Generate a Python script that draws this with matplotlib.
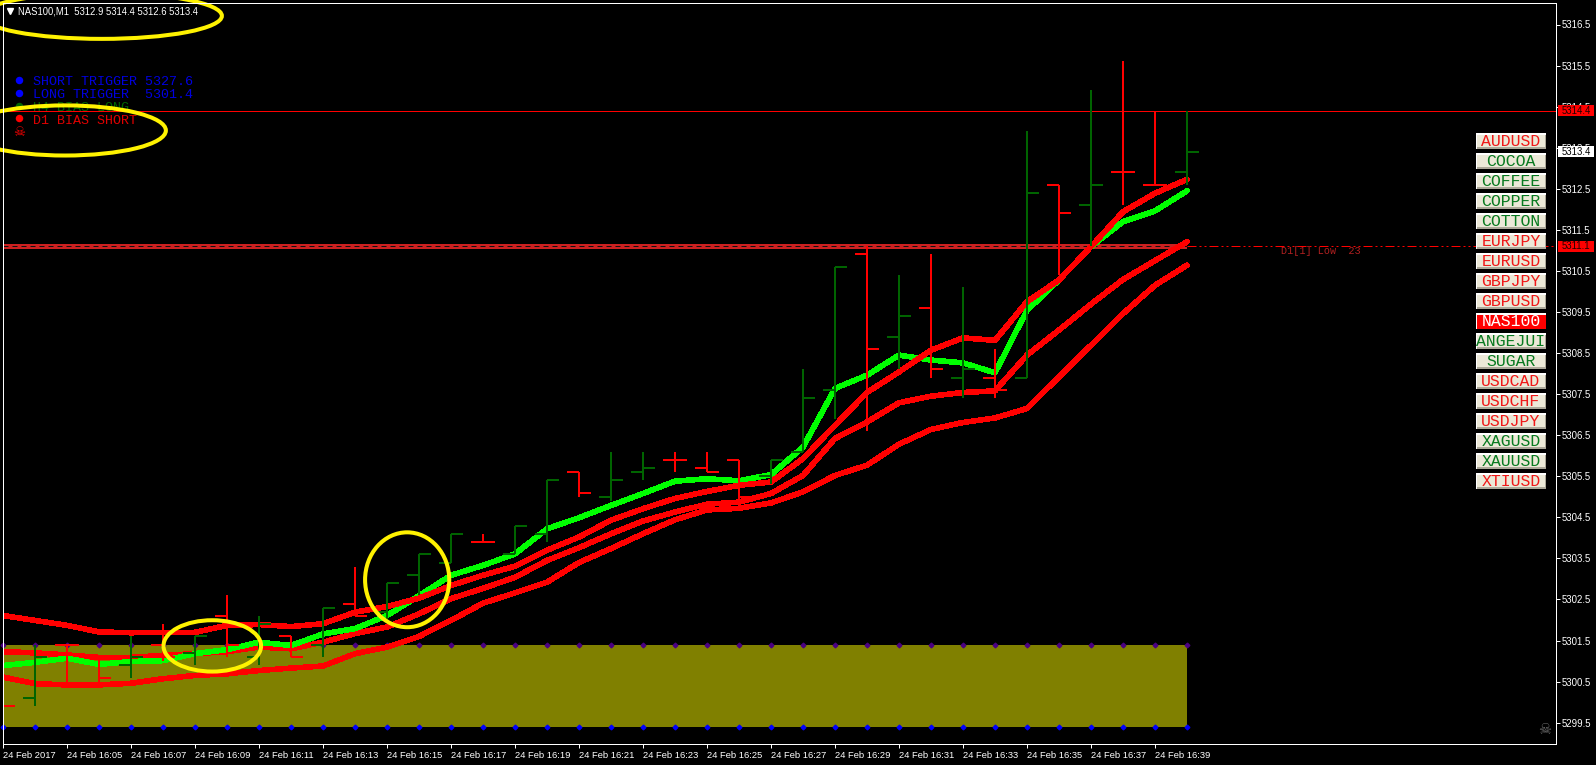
import matplotlib
matplotlib.use("Agg")
import matplotlib.pyplot as plt
import numpy as np
from matplotlib.patches import Ellipse, Rectangle
from matplotlib.transforms import Affine2D, blended_transform_factory

W, H = 1596, 765
UI = "Liberation Sans"
MONO = "Liberation Mono"

# ---------------- data ----------------
symbol = "NAS100,M1"
ohlc_header = "5312.9 5314.4 5312.6 5313.4"
opens = [5301.0, 5300.1, 5301.4, 5301.1, 5300.9, 5301.4, 5301.2, 5302.1, 5301.1, 5301.6,
         5301.4, 5302.4, 5302.2, 5303.1, 5303.4, 5303.9, 5303.6, 5304.1, 5305.6, 5305.0,
         5305.6, 5305.9, 5305.7, 5305.9, 5305.5, 5306.1, 5307.6, 5310.9, 5308.9, 5309.6,
         5307.9, 5307.9, 5307.9, 5312.6, 5312.1, 5312.9, 5312.6, 5312.9]
highs = [5301.1, 5301.4, 5301.4, 5301.1, 5301.6, 5301.9, 5301.6, 5302.6, 5302.1, 5301.6,
         5302.3, 5303.3, 5302.9, 5303.6, 5304.1, 5304.1, 5304.3, 5305.4, 5305.6, 5306.1,
         5306.1, 5306.1, 5306.1, 5305.9, 5305.9, 5308.1, 5310.6, 5311.1, 5310.4, 5310.9,
         5310.1, 5308.6, 5313.9, 5312.6, 5314.9, 5315.6, 5314.4, 5314.4]
lows = [5299.5, 5299.9, 5300.5, 5300.5, 5300.6, 5301.0, 5300.9, 5301.1, 5300.9, 5301.1,
        5301.1, 5302.1, 5302.0, 5302.6, 5303.4, 5303.9, 5303.6, 5303.9, 5305.0, 5304.9,
        5305.4, 5305.6, 5305.6, 5304.9, 5305.3, 5306.1, 5306.9, 5306.6, 5308.1, 5307.9,
        5307.4, 5307.4, 5307.9, 5310.4, 5311.1, 5312.1, 5312.6, 5312.6]
closes = [5299.9, 5301.1, 5301.4, 5300.6, 5301.1, 5301.1, 5301.6, 5301.4, 5301.9, 5301.1,
          5302.3, 5302.1, 5302.9, 5303.6, 5304.1, 5303.9, 5304.3, 5305.4, 5305.1, 5305.4,
          5305.7, 5305.9, 5305.6, 5305.0, 5305.9, 5307.4, 5310.6, 5308.6, 5309.4, 5308.1,
          5308.1, 5307.6, 5312.4, 5311.9, 5312.6, 5312.9, 5312.6, 5313.4]

ma_upper = [5302.11, 5301.99, 5301.87, 5301.71, 5301.69, 5301.70, 5301.70, 5301.87, 5301.89, 5301.84,
            5301.91, 5302.19, 5302.33, 5302.53, 5302.84, 5303.09, 5303.31, 5303.70, 5304.02, 5304.43,
            5304.71, 5304.96, 5305.13, 5305.28, 5305.36, 5305.93, 5306.74, 5307.54, 5308.04, 5308.57,
            5308.87, 5308.81, 5309.75, 5310.28, 5311.09, 5311.94, 5312.39, 5312.73]
ma_green = [5300.89, 5300.97, 5301.07, 5300.92, 5300.99, 5301.01, 5301.18, 5301.28, 5301.46, 5301.38,
            5301.66, 5301.79, 5302.11, 5302.59, 5303.09, 5303.33, 5303.61, 5304.22, 5304.49, 5304.79,
            5305.08, 5305.38, 5305.44, 5305.39, 5305.54, 5306.21, 5307.64, 5307.96, 5308.45, 5308.33,
            5308.26, 5308.02, 5309.54, 5310.28, 5311.09, 5311.70, 5311.96, 5312.45]
ma_middle = [5301.23, 5301.20, 5301.15, 5301.09, 5301.09, 5301.14, 5301.18, 5301.23, 5301.34, 5301.30,
             5301.46, 5301.67, 5301.83, 5302.15, 5302.52, 5302.77, 5303.04, 5303.45, 5303.76, 5304.10,
             5304.41, 5304.63, 5304.82, 5304.87, 5305.08, 5305.52, 5306.42, 5306.82, 5307.29, 5307.45,
             5307.54, 5307.58, 5308.45, 5309.06, 5309.69, 5310.29, 5310.75, 5311.21]
ma_lower = [5300.61, 5300.45, 5300.42, 5300.42, 5300.46, 5300.57, 5300.65, 5300.69, 5300.77, 5300.83,
            5300.88, 5301.18, 5301.34, 5301.60, 5301.99, 5302.41, 5302.66, 5302.92, 5303.40, 5303.74,
            5304.10, 5304.44, 5304.68, 5304.72, 5304.85, 5305.12, 5305.52, 5305.77, 5306.28, 5306.64,
            5306.81, 5306.92, 5307.15, 5307.92, 5308.69, 5309.46, 5310.15, 5310.64]

zone_top, zone_bottom = 5301.4, 5299.4
day_high, day_low = 5314.4, 5311.1
last_price = 5313.4
band_low, band_high = 5311.03, 5311.15

x_labels = ["24 Feb 2017"] + [f"24 Feb 16:{m:02d}" for m in range(5, 40, 2)]
y_ticks = [5299.5 + k for k in range(18)]

buttons = ["AUDUSD", "COCOA", "COFFEE", "COPPER", "COTTON", "EURJPY", "EURUSD", "GBPJPY", "GBPUSD",
           "NAS100", "ANGEJUI", "SUGAR", "USDCAD", "USDCHF", "USDJPY", "XAGUSD", "XAUUSD", "XTIUSD"]
button_colors = ["r", "g", "g", "g", "g", "r", "r", "r", "r",
                 "w", "g", "g", "r", "r", "r", "g", "g", "r"]
status_lines = ["SHORT TRIGGER 5327.6", "LONG TRIGGER  5301.4", "H4 BIAS LONG", "D1 BIAS SHORT"]
status_colors = ["#0000e0", "#0000e0", "#006400", "#e00000"]
dot_colors = ["#0000ff", "#0000ff", "#006400", "#ff0000"]

# annotations: centre bar, centre price, width in bars, height in price
ellipses = [(3.09, 5316.71, 7.5, 1.12), (1.94, 5313.92, 6.3, 1.22),
            (6.54, 5301.37, 3.05, 1.25), (12.63, 5302.98, 2.63, 2.31)]

# ---------------- layout ----------------
fig = plt.figure(figsize=(W / 100, H / 100), dpi=100, facecolor="black")
L, R, T, B = 2.5, 1556.0, 2.5, 744.0
ax = fig.add_axes([L / W, 1 - B / H, (R - L) / W, (B - T) / H], facecolor="black")
PX_Y = 41.07
ax.set_xlim((L - 3) / 32, (R - 3) / 32)
ax.set_ylim(5316.5 - (B - 24.5) / PX_Y, 5316.5 + (24.5 - T) / PX_Y)

px = Affine2D().scale(1, -1).translate(0, H)
px_price = blended_transform_factory(px, ax.transData)

for s in ax.spines.values():
    s.set_color("white")
    s.set_linewidth(0.72)
    s.set_zorder(8)

n = len(closes)
bars = np.arange(n)
o, h, l, c = map(np.array, (opens, highs, lows, closes))
colors = ["#006400" if c[i] > o[i] else "#ff0000" for i in range(n)]

# zone
ax.add_patch(Rectangle((0, zone_bottom), n - 1, zone_top - zone_bottom, fc="#808000", ec="none", zorder=1))
ax.plot(bars, [zone_top] * n, ls="none", marker="D", ms=2.4, mfc="#4b0082", mec="#4b0082", zorder=2, clip_on=False)
ax.plot(bars, [zone_bottom] * n, ls="none", marker="D", ms=2.4, mfc="#0000ff", mec="#0000ff", zorder=2, clip_on=False)

# horizontal levels
ax.axhline(day_high, color="#ff0000", lw=0.72, zorder=2.5)
ax.add_patch(Rectangle((0, band_low), n - 1, band_high - band_low, fc="#cc2020", ec="none", zorder=2.2))
ax.plot([0, n - 1], [day_low, day_low], color="#101010", lw=0.72, ls=(0, (5, 4)), zorder=2.4)
ax.plot([n - 1, (R - 3) / 32], [day_low, day_low], color="#ff0000", lw=0.72,
        ls=(0, (9, 3, 2, 3, 2, 3)), zorder=2.4)
ax.text(1281, day_low, "D1[1] Low  23", transform=px_price, color="#b02020", family=MONO,
        fontsize=7.3, va="top", ha="left", zorder=3)

# moving averages
for series, col in ((ma_lower, "#ff0000"), (ma_middle, "#ff0000"), (ma_green, "#00ff00"), (ma_upper, "#ff0000")):
    ax.plot(bars, series, color=col, lw=3.3, solid_capstyle="round", solid_joinstyle="round",
            zorder=4, antialiased=False)

# OHLC bars
bar_kw = dict(linewidth=1.44, antialiased=False, zorder=5)
ax.vlines(bars, l, h, colors=colors, **bar_kw)
ax.hlines(o, bars - 0.375, bars, colors=colors, **bar_kw)
ax.hlines(c, bars, bars + 0.375, colors=colors, **bar_kw)

# axes ticks
ax.set_xticks(bars[:len(x_labels) * 2][::2])
ax.set_xticklabels(x_labels, fontfamily=UI, fontsize=6.75, color="white", ha="left")
ax.yaxis.tick_right()
ax.set_yticks(y_ticks)
ax.set_yticklabels([f"{v:.1f}" for v in y_ticks], fontfamily=UI, fontsize=6.9, color="white")
ax.tick_params(axis="x", colors="white", length=2.9, width=0.72, pad=2.5)
ax.tick_params(axis="y", colors="white", length=2.9, width=0.72, pad=1.5)

# header
ax.plot([10], [11], transform=px, marker="v", ms=4.0, color="white", clip_on=False, zorder=9)
ax.text(18, 11, f"{symbol}  {ohlc_header}", transform=px, color="white", family=UI, fontsize=6.85,
        va="center", ha="left", zorder=9)

# status panel
dot_ys = [80, 93, 105.5, 118]
text_ys = [82, 95, 108, 121.2]
for dy, ty, t, tc, dc in zip(dot_ys, text_ys, status_lines, status_colors, dot_colors):
    ax.plot([18.5], [dy], transform=px, marker="o", ms=5.4, color=dc, mew=0, clip_on=False, zorder=6)
    ax.text(33, ty, t, transform=px, color=tc, family=MONO, fontsize=9.6, va="center", ha="left", zorder=6)
ax.text(19, 132, "\u2620", transform=px, color="#ff0000", family="DejaVu Sans", fontsize=9.5,
        va="center", ha="center", zorder=6)
ax.text(1545, 730, "\u2620", transform=px, color="#6a6a6a", family="DejaVu Sans", fontsize=10.5,
        va="center", ha="center", zorder=6)

# price tags
for price, fc, tc in ((day_high, "#ff0000", "#200000"), (day_low, "#ff0000", "#200000"), (last_price, "white", "black")):
    ax.add_patch(Rectangle((1558, price - 5.4 / PX_Y), 36, 10.8 / PX_Y, transform=px_price, fc=fc, ec="none",
                           clip_on=False, zorder=10))
    ax.text(1576, price, f"{price:.1f}", transform=px_price, color=tc, family=UI, fontsize=6.9,
            ha="center", va="center", zorder=11)

# symbol buttons
btn_text = {"r": "#f01818", "g": "#087a20", "w": "white"}
for k, (name, col) in enumerate(zip(buttons, button_colors)):
    y0 = 133 + 20 * k
    face = "#ff0000" if col == "w" else "#ece9d8"
    ax.add_patch(Rectangle((1476, y0), 70, 16, transform=px, fc="white", ec="none", clip_on=False, zorder=10))
    ax.add_patch(Rectangle((1477, y0 + 2), 69, 14, transform=px, fc="#aca899" if col != "w" else "#ff0000",
                           ec="none", clip_on=False, zorder=10.1))
    ax.add_patch(Rectangle((1477, y0 + 2), 68, 12, transform=px, fc=face, ec="none", clip_on=False, zorder=10.2))
    ax.text(1511, y0 + 8.2, name, transform=px, color=btn_text[col], family=MONO, fontsize=11.9,
            ha="center", va="center", zorder=10.3)

# yellow hand-drawn circles
for cx, cy, w, ht in ellipses:
    ax.add_patch(Ellipse((cx, cy), w, ht, fc="none", ec="#fff200", lw=2.9, clip_on=False, zorder=7))

fig.savefig("out.png", dpi=100, facecolor="black")
